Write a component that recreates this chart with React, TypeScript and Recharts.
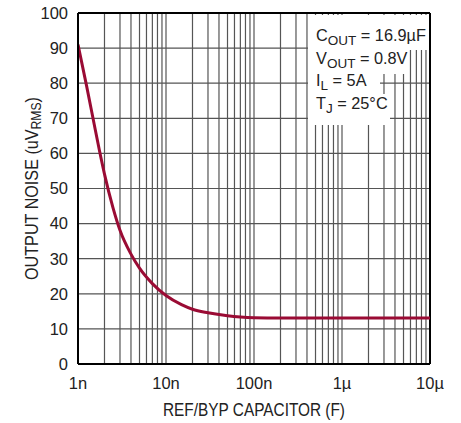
import React from 'react';
import {
  LineChart,
  Line,
  XAxis,
  YAxis,
  CartesianGrid,
  ReferenceLine,
  Customized,
} from 'recharts';

// REF/BYP capacitance (F) and output noise (uVrms)
const capacitance = [
  1e-9, 1.25e-9, 1.5e-9, 1.75e-9, 2e-9, 2.5e-9, 3e-9, 4e-9, 5e-9, 7e-9,
  1e-8, 1.5e-8, 2e-8, 3e-8, 5e-8, 7e-8, 1e-7, 2e-7, 1e-6, 1e-5,
];
const noise = [
  91, 79.3, 69.3, 60.9, 54.1, 44.5, 38.1, 31.3, 27.3, 22.9,
  19.5, 16.9, 15.6, 14.6, 13.75, 13.4, 13.2, 13.1, 13.1, 13.1,
];

const decades = [1e-9, 1e-8, 1e-7, 1e-6, 1e-5];
const decadeLabels = ['1n', '10n', '100n', '1µ', '10µ'];
const multipliers = [1, 2, 3, 4, 5, 6, 7, 8, 9];
const yTicks = [0, 10, 20, 30, 40, 50, 60, 70, 80, 90, 100];

const data = capacitance.map((c, i) => ({ c, noise: noise[i] }));

// every 1..9 x decade gets a grid line, only decades get a label
const xTicks = [
  ...decades.slice(0, -1).flatMap((d) => multipliers.map((m) => d * m)),
  decades[decades.length - 1],
];

const fmtX = (v: number) => {
  const i = decades.findIndex((d) => Math.abs(v - d) / d < 1e-6);
  return i >= 0 ? decadeLabels[i] : '';
};

const FONT = "'Liberation Sans', Arial, sans-serif";
const NARROW = "'Liberation Sans Narrow', 'Liberation Sans', Arial, sans-serif";
const INK = '#222';

const Notes = () => (
  <g>
    {/* white knock-outs behind the conditions text */}
    <rect x={308} y={15} width={121} height={35} fill="#fff" />
    <rect x={308} y={49} width={99} height={25} fill="#fff" />
    <rect x={308} y={73} width={72} height={22} fill="#fff" />
    <rect x={308} y={94} width={82} height={31} fill="#fff" />
    <g fontFamily={FONT} fontSize={16.3} fill={INK}>
      <text x={316} y={41}>
        C<tspan fontSize={13.5} dy={4}>OUT</tspan>
        <tspan dy={-4}> = 16.9µF</tspan>
      </text>
      <text x={316} y={63.5}>
        V<tspan fontSize={13.5} dy={4}>OUT</tspan>
        <tspan dy={-4}> = 0.8V</tspan>
      </text>
      <text x={316} y={86}>
        I<tspan fontSize={13.5} dy={4}>L</tspan>
        <tspan dy={-4}> = 5A</tspan>
      </text>
      <text x={316} y={109}>
        T<tspan fontSize={13.5} dy={4}>J</tspan>
        <tspan dy={-4}> = 25°C</tspan>
      </text>
    </g>
    <text
      x={254}
      y={415.5}
      textAnchor="middle"
      fontFamily={NARROW}
      fontSize={18.6}
      fill={INK}
      textLength={182}
      lengthAdjust="spacingAndGlyphs"
    >
      REF/BYP CAPACITOR (F)
    </text>
    <text
      x={37.5}
      y={188.5}
      transform="rotate(-90, 37.5, 188.5)"
      textAnchor="middle"
      fontFamily={NARROW}
      fontSize={18.6}
      fill={INK}
      textLength={183}
      lengthAdjust="spacingAndGlyphs"
    >
      OUTPUT NOISE (uV<tspan fontSize={14} dy={3}>RMS</tspan>
      <tspan dy={-3}>)</tspan>
    </text>
  </g>
);

export default function App() {
  return (
    <div style={{ position: 'absolute', left: 0, top: 0, background: '#fff' }}>
      <LineChart
        width={461}
        height={423}
        data={data}
        margin={{ top: 13, right: 31, bottom: 0, left: 0 }}
      >
        <CartesianGrid stroke="#555" strokeWidth={1.2} />
        <XAxis
          dataKey="c"
          type="number"
          scale="log"
          domain={[1e-9, 1e-5]}
          allowDataOverflow
          ticks={xTicks}
          interval={0}
          tickFormatter={fmtX}
          tickLine={false}
          tickMargin={7}
          height={59}
          axisLine={{ stroke: '#000', strokeWidth: 2 }}
          tick={{ fill: INK, fontSize: 16.5, fontFamily: FONT }}
        />
        <YAxis
          type="number"
          domain={[0, 100]}
          ticks={yTicks}
          interval={0}
          tickLine={false}
          tickMargin={4}
          width={78}
          axisLine={{ stroke: '#000', strokeWidth: 2 }}
          tick={{ fill: INK, fontSize: 16.5, fontFamily: FONT }}
        />
        <ReferenceLine y={100} stroke="#000" strokeWidth={2} />
        <ReferenceLine x={1e-5} stroke="#000" strokeWidth={2} />
        <Line
          type="monotone"
          dataKey="noise"
          stroke="#9a0b34"
          strokeWidth={3}
          dot={false}
          isAnimationActive={false}
        />
        <Customized component={<Notes />} />
      </LineChart>
    </div>
  );
}
